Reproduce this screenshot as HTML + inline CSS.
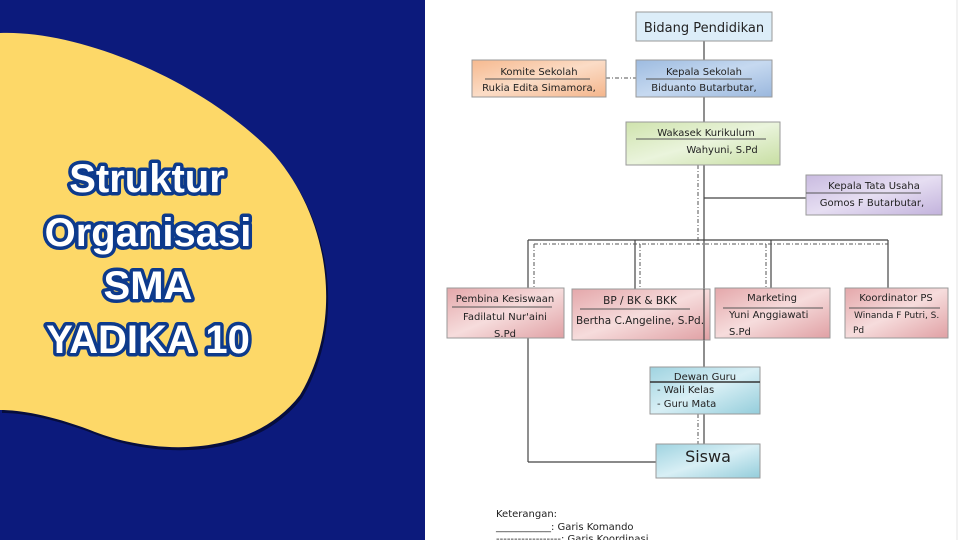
<!DOCTYPE html>
<html><head><meta charset="utf-8"><style>
body{margin:0;width:960px;height:540px;overflow:hidden;background:#fff;font-family:"Liberation Sans",sans-serif}
.t{font-family:"Liberation Sans",sans-serif;font-weight:900;font-size:40px;fill:#fff;stroke:#0d3a8c;stroke-width:7px;paint-order:stroke;stroke-linejoin:round;text-anchor:middle}
.b{fill:#222;text-anchor:middle}
</style></head><body>
<svg width="960" height="540" viewBox="0 0 960 540">
<defs>
<linearGradient id="gb" x1="0" y1="0" x2="1" y2="1"><stop offset="0" stop-color="#9dbbe0"/><stop offset=".5" stop-color="#c6d9f0"/><stop offset="1" stop-color="#9ab7dd"/></linearGradient>
<linearGradient id="go" x1="0" y1="0" x2="1" y2="1"><stop offset="0" stop-color="#f6b98f"/><stop offset=".5" stop-color="#fbdcc6"/><stop offset="1" stop-color="#f4b58b"/></linearGradient>
<linearGradient id="gg" x1="0" y1="0" x2="1" y2="1"><stop offset="0" stop-color="#cfe3ad"/><stop offset=".5" stop-color="#eaf4dc"/><stop offset="1" stop-color="#c7dea2"/></linearGradient>
<linearGradient id="gp" x1="0" y1="0" x2="1" y2="1"><stop offset="0" stop-color="#c9bbe0"/><stop offset=".5" stop-color="#e6def2"/><stop offset="1" stop-color="#c2b2dc"/></linearGradient>
<linearGradient id="gr" x1="0" y1="0" x2="1" y2="1"><stop offset="0" stop-color="#e4a7aa"/><stop offset=".5" stop-color="#f6dcdc"/><stop offset="1" stop-color="#e0a0a4"/></linearGradient>
<linearGradient id="gc" x1="0" y1="0" x2="1" y2="1"><stop offset="0" stop-color="#9fd3e0"/><stop offset=".5" stop-color="#d8eff5"/><stop offset="1" stop-color="#94cddb"/></linearGradient>
</defs>
<rect x="0" y="0" width="425" height="540" fill="#0c1a7c"/>
<path d="M0 33 C80 30 200 80 270 150 C330 215 345 320 300 395 C250 460 150 455 90 430 C50 415 20 410 0 410 Z" fill="#000" opacity=".5" transform="translate(2,3)"/>
<path d="M0 33 C80 30 200 80 270 150 C330 215 345 320 300 395 C250 460 150 455 90 430 C50 415 20 410 0 410 Z" fill="#fdd868"/>
<text class="t" x="147" y="192">Struktur</text>
<text class="t" x="148" y="246">Organisasi</text>
<text class="t" x="148" y="299">SMA</text>
<text class="t" x="148" y="353">YADIKA 10</text>
<line x1="957" y1="0" x2="957" y2="540" stroke="#e4e4e4"/>
<g stroke="#444" stroke-width="1.2" fill="none">
<line x1="704" y1="41" x2="704" y2="60"/>
<line x1="704" y1="97" x2="704" y2="122"/>
<line x1="704" y1="165" x2="704" y2="367"/>
<line x1="704" y1="198" x2="806" y2="198"/>
<line x1="528" y1="240" x2="888" y2="240"/>
<line x1="528" y1="240" x2="528" y2="288"/>
<line x1="635" y1="240" x2="635" y2="289"/>
<line x1="771" y1="240" x2="771" y2="288"/>
<line x1="888" y1="240" x2="888" y2="288"/>
<line x1="528" y1="338" x2="528" y2="462"/>
<line x1="528" y1="462" x2="656" y2="462"/>
<line x1="704" y1="414" x2="704" y2="444"/>
</g>
<g stroke="#555" stroke-width="1" fill="none" stroke-dasharray="4 2 1 2">
<line x1="606" y1="78" x2="636" y2="78"/>
<line x1="698" y1="165" x2="698" y2="244"/>
<line x1="534" y1="244" x2="888" y2="244"/>
<line x1="534" y1="244" x2="534" y2="288"/>
<line x1="640" y1="244" x2="640" y2="289"/>
<line x1="766" y1="244" x2="766" y2="288"/>
<line x1="698" y1="414" x2="698" y2="444"/>
</g>
<g stroke="#999" stroke-width="1">
<rect x="636" y="12" width="136" height="29" fill="#dcedf8"/>
<rect x="472" y="60" width="134" height="37" fill="url(#go)"/>
<rect x="636" y="60" width="136" height="37" fill="url(#gb)"/>
<rect x="626" y="122" width="154" height="43" fill="url(#gg)"/>
<rect x="806" y="175" width="136" height="40" fill="url(#gp)"/>
<rect x="447" y="288" width="117" height="50" fill="url(#gr)"/>
<rect x="572" y="289" width="138" height="51" fill="url(#gr)"/>
<rect x="715" y="288" width="115" height="50" fill="url(#gr)"/>
<rect x="845" y="288" width="103" height="50" fill="url(#gr)"/>
<rect x="650" y="367" width="110" height="47" fill="url(#gc)"/>
<rect x="656" y="444" width="104" height="34" fill="url(#gc)"/>
</g>
<line x1="704" y1="289" x2="704" y2="340" stroke="#444" stroke-width="1.2"/>
<g stroke="#555" stroke-width="1">
<line x1="485" y1="79" x2="590" y2="79"/><line x1="646" y1="79" x2="752" y2="79"/>
<line x1="636" y1="139" x2="766" y2="139"/><line x1="806" y1="193" x2="921" y2="193"/>
<line x1="452" y1="307" x2="552" y2="307"/><line x1="580" y1="309" x2="690" y2="309"/>
<line x1="723" y1="308" x2="823" y2="308"/><line x1="849" y1="308" x2="940" y2="308"/>
<line x1="650" y1="382" x2="760" y2="382" stroke="#333" stroke-width="1.5"/>
</g>
<g font-family="DejaVu Sans, sans-serif" fill="#222">
<text class="b" x="704" y="32" font-size="13">Bidang Pendidikan</text>
<text class="b" x="539" y="75" font-size="10">Komite Sekolah</text>
<text class="b" x="539" y="91" font-size="10">Rukia Edita Simamora,</text>
<text class="b" x="704" y="75" font-size="10">Kepala Sekolah</text>
<text class="b" x="704" y="91" font-size="10">Biduanto Butarbutar,</text>
<text class="b" x="706" y="136" font-size="10">Wakasek Kurikulum</text>
<text class="b" x="722" y="153" font-size="10">Wahyuni, S.Pd</text>
<text class="b" x="874" y="189" font-size="10">Kepala Tata Usaha</text>
<text class="b" x="872" y="206" font-size="10">Gomos F Butarbutar,</text>
<text class="b" x="505" y="302" font-size="10">Pembina Kesiswaan</text>
<text class="b" x="505" y="320" font-size="10">Fadilatul Nur'aini</text>
<text class="b" x="505" y="337" font-size="10">S.Pd</text>
<text class="b" x="640" y="304" font-size="10.5">BP / BK &amp; BKK</text>
<text class="b" x="640" y="324" font-size="10.5">Bertha C.Angeline, S.Pd.</text>
<text class="b" x="772" y="301" font-size="10">Marketing</text>
<text x="729" y="318" font-size="10">Yuni Anggiawati</text>
<text x="729" y="335" font-size="10">S.Pd</text>
<text class="b" x="896" y="301" font-size="10">Koordinator PS</text>
<text x="854" y="318" font-size="9">Winanda F Putri, S.</text>
<text x="853" y="333" font-size="9">Pd</text>
<text class="b" x="705" y="380" font-size="10">Dewan Guru</text>
<text x="657" y="393" font-size="10">- Wali Kelas</text>
<text x="657" y="407" font-size="10">- Guru Mata</text>
<text class="b" x="708" y="462" font-size="16">Siswa</text>
<text x="496" y="517" font-size="10">Keterangan:</text>
<text x="496" y="530" font-size="10">___________: Garis Komando</text>
<text x="496" y="542" font-size="10">------------------: Garis Koordinasi</text>
</g>
</svg>
</body></html>
